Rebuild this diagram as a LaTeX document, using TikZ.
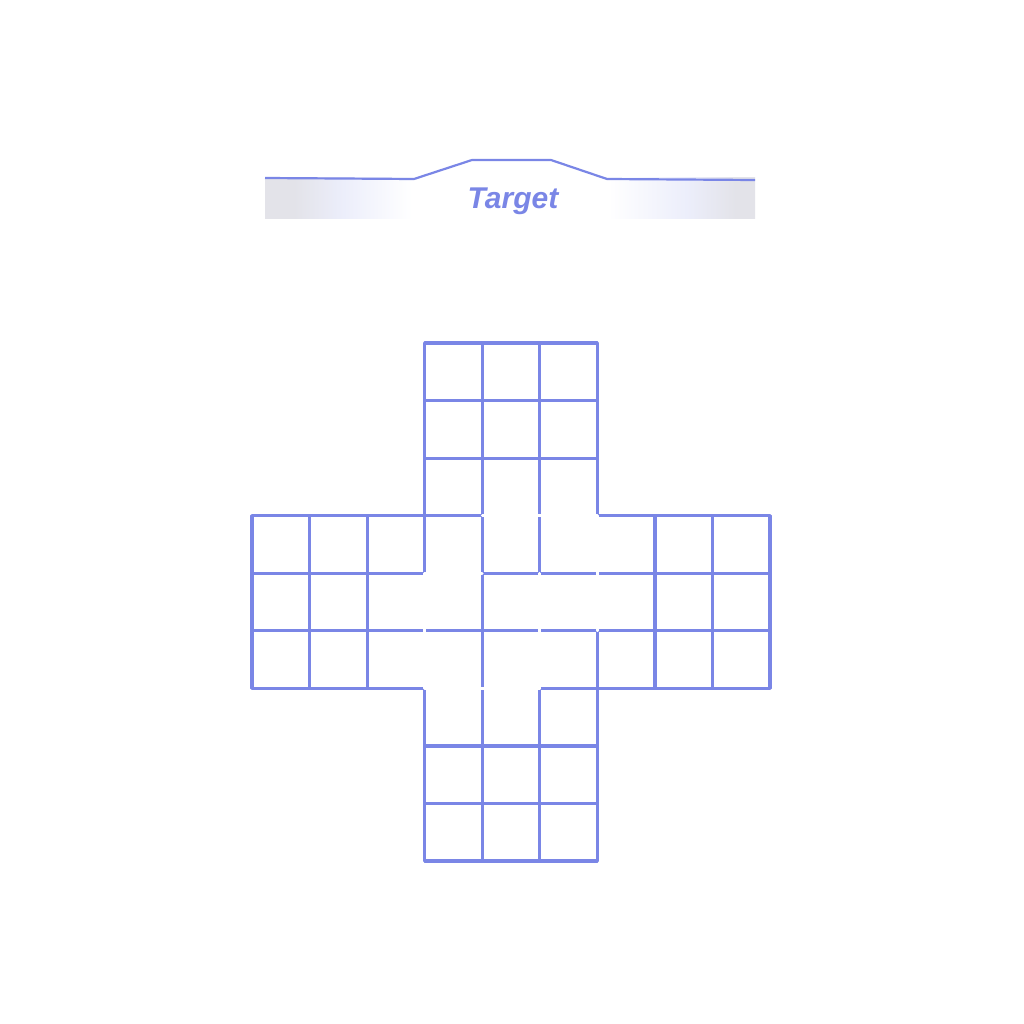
\documentclass[tikz,border=0pt]{standalone}
\usepackage{fontspec}
\setmainfont{Liberation Sans}
\usetikzlibrary{positioning}

\definecolor{gridblue}{RGB}{122,134,230}
\definecolor{bannergray}{RGB}{227,227,233}
\definecolor{bannerlav}{RGB}{236,238,251}
\pgfdeclarehorizontalshading{bannershade}{100bp}{color(0bp)=(bannergray); color(28bp)=(bannergray); color(33bp)=(bannerlav); color(40bp)=(white); color(60bp)=(white); color(68bp)=(bannerlav); color(73bp)=(bannergray); color(100bp)=(bannergray)}

\begin{document}
\begin{tikzpicture}[
    x=1pt, y=-1pt,
    gridline/.style={draw=gridblue, line width=3.2pt, line join=round, line cap=round},
    gap/.style={draw=white, line width=2.8pt, line join=round, line cap=round},
    ridge/.style={draw=gridblue, line width=2.2pt, line join=round},
    title/.style={font=\fontsize{30}{36}\selectfont\bfseries\itshape, text=gridblue, anchor=base},
  ]
    \useasboundingbox (0,0) rectangle (1024,1024);

    % banner
    \shade[shading=bannershade] (265,178) rectangle (755,219);
    \draw[ridge] (265,178) -- (414,179) -- (472,160) -- (551,160) -- (607,179) -- (755,180);
    \node[title] (target) at (513,209) {Target};

    % cross board
    \begin{scope}[shift={(252,343)}, x=57.56pt, y=-57.56pt]
      \draw[gridline] (3,0) -- (6,0) -- (6,3) -- (9,3) -- (9,6) -- (6,6) -- (6,9)
        -- (3,9) -- (3,6) -- (0,6) -- (0,3) -- (3,3) -- cycle;
      \foreach \i in {4,5} {
        \draw[gridline] (\i,0) -- (\i,9);
        \draw[gridline] (0,\i) -- (9,\i);
      }
      \foreach \i in {1,2,3,6,7,8} {
        \draw[gridline] (\i,3) -- (\i,6);
        \draw[gridline] (3,\i) -- (6,\i);
      }
      % blanked edges in the centre
      \draw[gap] (4,3) -- (6,3) -- (6,5);
      \draw[gap] (5,4) -- (5,6);
      \draw[gap] (4,4) -- (3,4) -- (3,6) -- (5,6);
    \end{scope}
  \end{tikzpicture}
\end{document}
